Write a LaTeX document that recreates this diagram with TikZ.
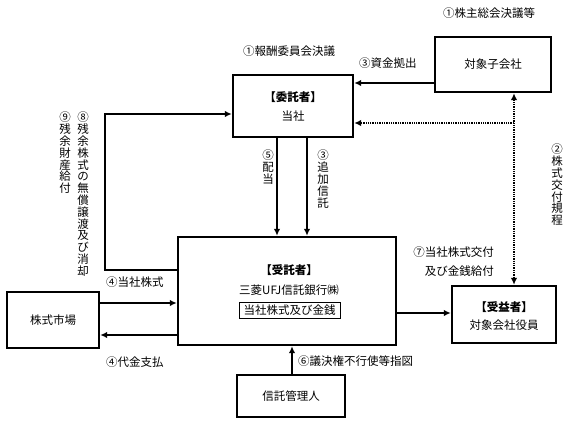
\documentclass[tikz,border=0pt]{standalone}
\usepackage{fontspec}
\setmainfont{Noto Sans CJK JP}
\usetikzlibrary{arrows.meta}
\tikzset{
  thickbox/.style={draw, line width=2.4pt, minimum width=#1, inner sep=0pt, align=center},
  thinbox/.style={draw, line width=1.5pt, inner sep=0pt, align=center},
  arr/.style={line width=1.6pt, -{Latex[length=7pt,width=6.5pt]}},
  plain/.style={line width=1.6pt},
  dotarr/.style={line width=1.3pt, densely dotted},
  lbl/.style={inner sep=0pt, font=\fontsize{11.5}{13}\selectfont},
  vlbl/.style={inner sep=0pt, anchor=north, align=center, font=\fontsize{11.5}{11.8}\selectfont},
}
\begin{document}
\begin{tikzpicture}[x=1pt,y=-1pt]
\useasboundingbox (0,0) rectangle (570,424);
\begin{scope}[font=\fontsize{11.5}{17}\selectfont]
% boxes
\node[thickbox=120pt, minimum height=62pt] (itaku) at (293,106) {};
\node[lbl] (itakuA) at (293,97) {\bfseries 【委託者】};
\node[lbl] (itakuB) at (293,116) {当社};
\node[thickbox=116pt, minimum height=55pt] (kogaisha) at (493,64.5) {対象子会社};
\node[thickbox=218pt, minimum height=108pt] (jutaku) at (287,291) {};
\node[lbl] (jutakuA) at (289,270) {\bfseries 【受託者】};
\node[lbl] (jutakuB) at (289,290) {三菱UFJ信託銀行㈱};
\node[draw, line width=0.8pt, minimum width=101pt, minimum height=16pt, inner sep=0pt] (zaisan) at (289.5,310) {当社株式及び金銭};
\node[thickbox=104pt, minimum height=57pt] (juueki) at (504,314.5) {};
\node[lbl] (juuekiA) at (504,307) {\bfseries 【受益者】};
\node[lbl] (juuekiB) at (504,325) {対象会社役員};
\node[thickbox=92pt, minimum height=56pt] (market) at (53,320) {株式市場};
\node[thinbox, minimum width=108pt, minimum height=42pt] (kanri) at (291,396) {信託管理人};
\end{scope}

% connectors
\draw[arr] (kogaisha.west |- 0,83) -- (itaku.east |- 0,83);
\coordinate (dj) at (514,123);
\draw[dotarr, {Latex[length=7pt,width=6.5pt]}-{Latex[length=7pt,width=6.5pt]}] (kogaisha.south -| dj) -- (juueki.north -| dj);
\draw[dotarr, -{Latex[length=7pt,width=6.5pt]}] (dj) -- (itaku.east |- dj);
\draw[arr] (itaku.south -| 277,0) -- (jutaku.north -| 277,0);
\draw[arr] (itaku.south -| 307,0) -- (jutaku.north -| 307,0);
\coordinate (lb) at (105,270);
\coordinate (lt) at (105,114);
\draw[arr] (jutaku.west |- lb) -- (lb) -- (lt) -- (itaku.west |- lt);
\draw[arr] (market.east |- 0,303) -- (jutaku.west |- 0,303);
\draw[arr] (jutaku.west |- 0,335) -- (market.east |- 0,335);
\draw[arr] (jutaku.east |- 0,313) -- (juueki.west |- 0,313);
\draw[arr] (kanri.north -| 292,0) -- (jutaku.south -| 292,0);

% labels
\node[lbl, anchor=west] (l1a) at (443,13) {①株主総会決議等};
\node[lbl, anchor=west] (l1b) at (243,51) {①報酬委員会決議};
\node[lbl, anchor=west] (l3a) at (359,63) {③資金拠出};
\node[vlbl] (l5) at (268,150) {⑤\\配\\当};
\node[vlbl] (l3b) at (323,150) {③\\追\\加\\信\\託};
\node[vlbl] (l2) at (557,144) {②\\株\\式\\交\\付\\規\\程};
\node[vlbl] (l8) at (83,112) {⑧\\残\\余\\株\\式\\の\\無\\償\\譲\\渡\\及\\び\\消\\却};
\node[vlbl] (l9) at (65,112) {⑨\\残\\余\\財\\産\\給\\付};
\node[lbl, anchor=west] (l4a) at (106,282) {④当社株式};
\node[lbl, anchor=west] (l4b) at (106,362) {④代金支払};
\node[lbl, anchor=east, align=right, font=\fontsize{11.5}{19}\selectfont] (l7) at (494,261.5) {⑦当社株式交付\\及び金銭給付};
\node[lbl, anchor=west] (l6) at (298,361) {⑥議決権不行使等指図};
\end{tikzpicture}
\end{document}
